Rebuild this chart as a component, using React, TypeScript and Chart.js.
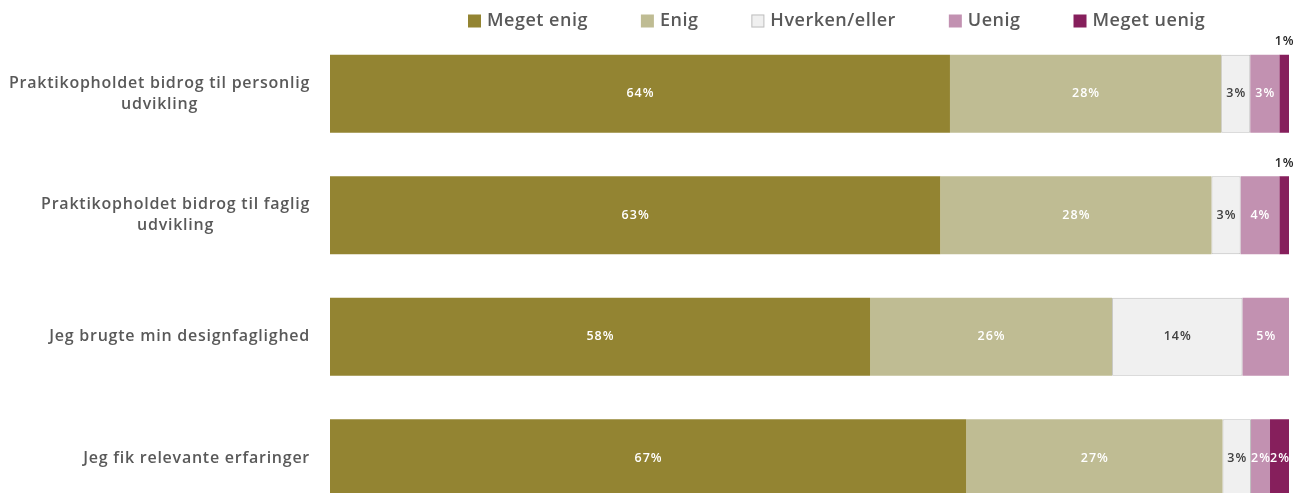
import React, { useEffect, useRef } from "react";
import { Chart, registerables } from "chart.js";

Chart.register(...registerables);

const categories: string[][] = [
  ["Praktikopholdet bidrog til personlig", "udvikling"],
  ["Praktikopholdet bidrog til faglig", "udvikling"],
  ["Jeg brugte min designfaglighed"],
  ["Jeg fik relevante erfaringer"],
];

const seriesNames = ["Meget enig", "Enig", "Hverken/eller", "Uenig", "Meget uenig"];
const megetEnig = [64, 63, 58, 67];
const enig = [28, 28, 26, 27];
const hverken = [3, 3, 14, 3];
const uenig = [3, 4, 5, 2];
const megetUenig = [1, 1, 0, 2];

const seriesValues = [megetEnig, enig, hverken, uenig, megetUenig];
const fillColors = ["#938432", "#BFBC93", "#F0F0F0", "#C291B1", "#861F5C"];
const borderColors = ["#938432", "#BFBC93", "#BFBFBF", "#C291B1", "#861F5C"];
const labelColors = ["#FFFFFF", "#FFFFFF", "#404040", "#FFFFFF", "#FFFFFF"];

const FONT = "'Open Sans', 'Noto Sans', sans-serif";

const rowSums = categories.map((_, i) => seriesValues.reduce((s, arr) => s + arr[i], 0));

const yLabelPlugin = {
  id: "yLabels",
  afterDraw(chart: any) {
    const ctx = chart.ctx;
    const yScale = chart.scales.y;
    const right = chart.chartArea.left - 20;
    const lh = 21;
    ctx.save();
    ctx.font = `600 16px ${FONT}`;
    (ctx as any).letterSpacing = "0.75px";
    ctx.fillStyle = "#595959";
    ctx.textAlign = "left";
    ctx.textBaseline = "middle";
    categories.forEach((lines, i) => {
      const yc = yScale.getPixelForValue(i);
      const widths = lines.map((l) => ctx.measureText(l).width);
      const w = Math.max(...widths);
      const cx = right - w / 2;
      const y0 = yc - ((lines.length - 1) * lh) / 2;
      lines.forEach((l, j) => ctx.fillText(l, cx - widths[j] / 2, y0 + j * lh));
    });
    ctx.restore();
  },
};

const legendPlugin = {
  id: "customLegend",
  afterDraw(chart: any) {
    const ctx = chart.ctx;
    ctx.save();
    ctx.font = `600 18px ${FONT}`;
    (ctx as any).letterSpacing = "0.5px";
    ctx.textBaseline = "middle";
    ctx.textAlign = "left";
    let x = chart.chartArea.left + 138;
    const y = 21;
    seriesNames.forEach((name, i) => {
      ctx.fillStyle = fillColors[i];
      ctx.fillRect(x, y - 6.5, 13, 13);
      if (i === 2) {
        ctx.strokeStyle = "#BFBFBF";
        ctx.lineWidth = 1;
        ctx.strokeRect(x + 0.5, y - 6, 12, 12);
      }
      ctx.fillStyle = "#595959";
      ctx.fillText(name, x + 19, y);
      x += 19 + ctx.measureText(name).width + 53;
    });
    ctx.restore();
  },
};

const dataLabelPlugin = {
  id: "dataLabels",
  afterDatasetsDraw(chart: any) {
    const ctx = chart.ctx;
    ctx.save();
    ctx.font = `600 12.5px ${FONT}`;
    (ctx as any).letterSpacing = "1px";
    ctx.textAlign = "left";
    ctx.textBaseline = "middle";
    seriesValues.forEach((vals, d) => {
      const meta = chart.getDatasetMeta(d);
      meta.data.forEach((el: any, i: number) => {
        const v = vals[i];
        if (!v) return;
        const cx = (el.x + el.base) / 2;
        const w = Math.abs(el.x - el.base);
        const txt = `${v}%`;
        const tw = ctx.measureText(txt).width - 1;
        if (w < 15) {
          ctx.fillStyle = "#262626";
          ctx.fillText(txt, cx - tw / 2, el.y - el.height / 2 - 13);
        } else {
          ctx.fillStyle = labelColors[d];
          ctx.fillText(txt, cx - tw / 2, el.y);
        }
      });
    });
    ctx.restore();
  },
};

export default function App() {
  const ref = useRef<HTMLCanvasElement | null>(null);
  useEffect(() => {
    if (!ref.current) return;
    const chart = new Chart(ref.current, {
      type: "bar",
      data: {
        labels: categories.map((c) => c.join(" ")),
        datasets: seriesValues.map((vals, d) => ({
          label: seriesNames[d],
          data: vals.map((v, i) => (v / rowSums[i]) * 100),
          backgroundColor: fillColors[d],
          borderColor: borderColors[d],
          borderWidth: d === 2 ? 1 : 0,
          borderSkipped: false,
          categoryPercentage: 1,
          barPercentage: 0.642,
        })),
      },
      options: {
        indexAxis: "y",
        responsive: false,
        animation: false,
        devicePixelRatio: 1,
        layout: { padding: { top: 33, right: 16, bottom: 0, left: 0 } },
        plugins: {
          legend: { display: false },
          tooltip: { enabled: false },
        },
        scales: {
          x: { stacked: true, min: 0, max: 100, display: false },
          y: {
            stacked: true,
            grid: { display: false },
            border: { display: false },
            ticks: { display: false },
            afterFit(scale: any) {
              scale.width = 330;
            },
          },
        },
      },
      plugins: [yLabelPlugin, legendPlugin, dataLabelPlugin],
    } as any);
    return () => chart.destroy();
  }, []);
  return (
    <div
      style={{
        position: "fixed",
        left: 0,
        top: 0,
        width: 1305,
        height: 493,
        overflow: "hidden",
        background: "#fff",
      }}
    >
      <canvas ref={ref} width={1305} height={519} style={{ display: "block" }} />
    </div>
  );
}
